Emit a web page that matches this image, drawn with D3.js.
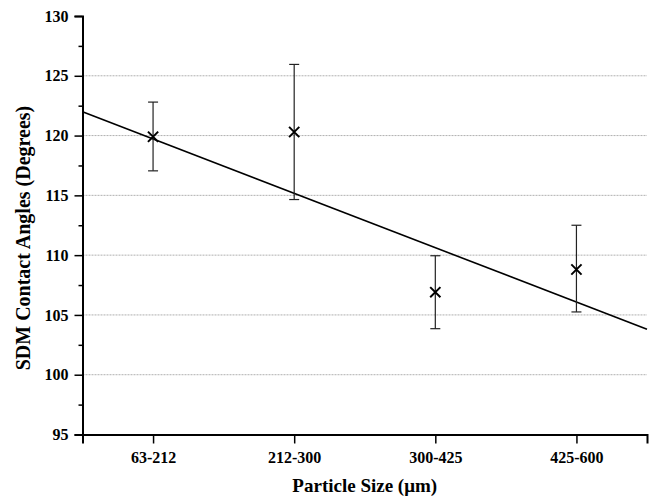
<!DOCTYPE html>
<html>
<head>
<meta charset="utf-8">
<script src="https://cdn.jsdelivr.net/npm/d3@7"></script>
<style>
  body { margin: 0; background: #fff; }
  text { font-family: "Liberation Serif", "Times New Roman", serif; font-weight: bold; }
</style>
</head>
<body>
<svg id="chart"></svg>
<script>
// particle size ranges (um)
var sizes = ['63-212', '212-300', '300-425', '425-600'];
var angles = [119.9, 120.3, 106.9, 108.8];
var errUp = [2.9, 5.65, 3.05, 3.7];
var errDown = [2.85, 5.65, 3.05, 3.55];
// linear fit, read at the two ends of the axis
var fitX = [0.5, 4.5];
var fitY = [122.0, 103.8];
var yTicks = [95, 100, 105, 110, 115, 120, 125, 130];
var gridVals = [100, 105, 110, 115, 120, 125];

var width = 654, height = 499;
var margin = {left: 82.5, right: 7, top: 16, bottom: 64.5};

var svg = d3.select('#chart')
  .attr('width', width)
  .attr('height', height)
  .style('background', '#ffffff');

var x = d3.scaleLinear().domain([0.5, 4.5]).range([margin.left, width - margin.right]);
var y = d3.scaleLinear().domain([95, 130]).range([height - margin.bottom, margin.top]);

// grid
svg.append('g').selectAll('line').data(gridVals)
  .enter().append('line')
    .attr('x1', x(0.5)).attr('x2', x(4.5))
    .attr('y1', function (d){ return y(d); })
    .attr('y2', function (d){ return y(d); })
    .attr('stroke', '#b0b0b0')
    .attr('stroke-width', 1)
    .attr('stroke-dasharray', '2,1');

// y axis
var yAxis = svg.append('g')
  .attr('transform', 'translate(' + margin.left + ',0)')
  .call(d3.axisLeft(y).tickValues(yTicks).tickSize(8).tickPadding(6).tickFormat(d3.format('d')));
svg.append('g')
  .attr('transform', 'translate(' + margin.left + ',0)')
  .call(d3.axisLeft(y).tickValues(d3.range(97.5, 130, 5)).tickSize(4).tickFormat(''))
  .call(function (g){ g.select('.domain').remove(); });

// x axis
var xAxis = svg.append('g')
  .attr('transform', 'translate(0,' + (height - margin.bottom) + ')')
  .call(d3.axisBottom(x).tickValues([1, 2, 3, 4]).tickSize(9).tickPadding(8)
    .tickFormat(function (d){ return sizes[d - 1]; }));

svg.selectAll('.domain').attr('stroke', '#000').attr('stroke-width', 2);
svg.selectAll('.tick line').attr('stroke', '#000').attr('stroke-width', 1.5);
svg.selectAll('.tick text').attr('fill', '#000')
  .style('font-size', '16px').style('font-family', '"Liberation Serif", serif').style('font-weight', 'bold');

// fit line
svg.append('line')
  .attr('x1', x(fitX[0])).attr('y1', y(fitY[0]))
  .attr('x2', x(fitX[1])).attr('y2', y(fitY[1]))
  .attr('stroke', '#000')
  .attr('stroke-width', 1.6);

// error bars
var pts = angles.map(function (d, i){ return {i: i + 1, v: d, up: errUp[i], dn: errDown[i]}; });
var eb = svg.append('g').selectAll('g').data(pts).enter().append('g');
eb.append('line')
  .attr('x1', function (d){ return x(d.i); })
  .attr('x2', function (d){ return x(d.i); })
  .attr('y1', function (d){ return y(d.v + d.up); })
  .attr('y2', function (d){ return y(d.v - d.dn); })
  .attr('stroke', '#222').attr('stroke-width', 1.2);
eb.append('line')
  .attr('x1', function (d){ return x(d.i) - 5; })
  .attr('x2', function (d){ return x(d.i) + 5; })
  .attr('y1', function (d){ return y(d.v + d.up); })
  .attr('y2', function (d){ return y(d.v + d.up); })
  .attr('stroke', '#222').attr('stroke-width', 1.2);
eb.append('line')
  .attr('x1', function (d){ return x(d.i) - 5; })
  .attr('x2', function (d){ return x(d.i) + 5; })
  .attr('y1', function (d){ return y(d.v - d.dn); })
  .attr('y2', function (d){ return y(d.v - d.dn); })
  .attr('stroke', '#222').attr('stroke-width', 1.2);

// x markers
svg.append('g').selectAll('path').data(pts)
  .enter().append('path')
    .attr('d', d3.symbol().type(d3.symbolTimes).size(70))
    .attr('transform', function (d){ return 'translate(' + x(d.i) + ',' + y(d.v) + ')'; })
    .attr('fill', 'none')
    .attr('stroke', '#000')
    .attr('stroke-width', 2);

// axis titles
svg.append('text')
  .attr('x', (margin.left + width - margin.right) / 2)
  .attr('y', 492)
  .attr('text-anchor', 'middle')
  .style('font-size', '19px')
  .text('Particle Size (\u03bcm)');

svg.append('text')
  .attr('transform', 'translate(30,238) rotate(-90)')
  .attr('text-anchor', 'middle')
  .style('font-size', '20px')
  .text('SDM Contact Angles (Degrees)');
</script>
</body>
</html>
